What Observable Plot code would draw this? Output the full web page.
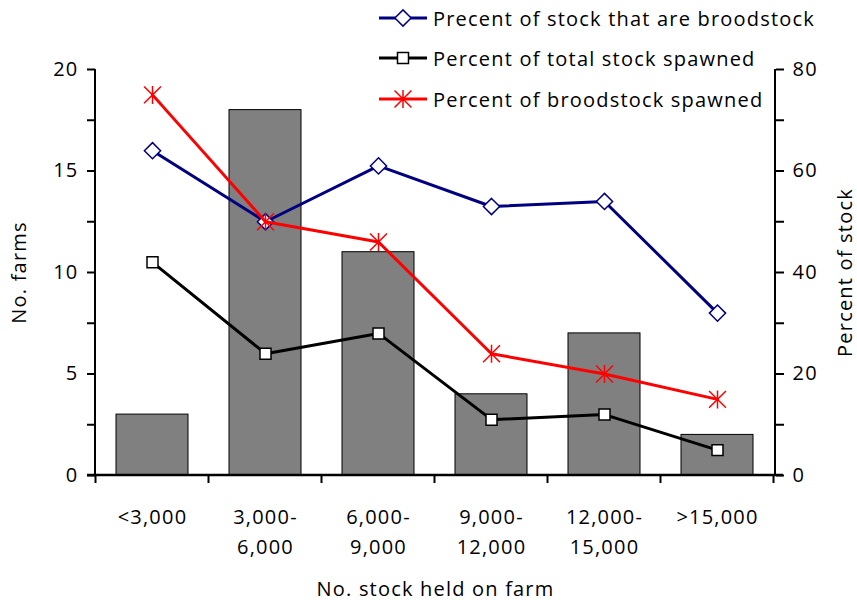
<!DOCTYPE html>
<html><head><meta charset="utf-8">
<script src="https://cdn.jsdelivr.net/npm/d3@7"></script>
<script src="https://cdn.jsdelivr.net/npm/@observablehq/plot@0.6"></script>
<style>
body{margin:0;background:#fff;}
#wrap{position:relative;width:857px;height:600px;font-family:"Open Sans",sans-serif;color:#000;}
.lg{position:absolute;left:378px;height:24px;display:flex;align-items:center;font-size:20px;letter-spacing:1.2px;white-space:nowrap;}
.lg svg{margin-right:5px;}
</style></head><body>
<div id="wrap"><div id="chart"></div><div id="legend"></div></div>
<script>
const categories = ["<3,000","3,000-6,000","6,000-9,000","9,000-12,000","12,000-15,000",">15,000"];
const tickLabels = ["<3,000","3,000-\n6,000","6,000-\n9,000","9,000-\n12,000","12,000-\n15,000",">15,000"];
const farms = [3,18,11,4,7,2];
const pctBroodstock = [64,50,61,53,54,32];
const pctTotalSpawned = [42,24,28,11,12,5];
const pctBroodSpawned = [75,50,46,24,20,15];
const seriesNames = ["Precent of stock that are broodstock","Percent of total stock spawned","Percent of broodstock spawned"];
const seriesColors = ["#000080","#000000","#ff0000"];

const k = 4; // right axis 0-80 mapped onto left axis 0-20
const rows = categories.map((c,i)=>({c, label:tickLabels[i], farms:farms[i], b:pctBroodstock[i], t:pctTotalSpawned[i], s:pctBroodSpawned[i]}));
const FONT = "Open Sans";

// Excel-style star: vertical stroke plus a 45-degree cross
const star = {
  draw(ctx, size) {
    const r = Math.sqrt(size / Math.PI), d = r * 0.94;
    ctx.moveTo(0, -r); ctx.lineTo(0, r);
    ctx.moveTo(-d, -d); ctx.lineTo(d, d);
    ctx.moveTo(-d, d); ctx.lineTo(d, -d);
  }
};

function frameMarks(index, scales, values, dims){
  const x = scales.x, y = scales.y;
  const bw = typeof x.bandwidth === "function" ? x.bandwidth() : scales.scales.x.bandwidth;
  const step = typeof x.step === "function" ? x.step() : scales.scales.x.step;
  const bounds = categories.map(c => x(c) + bw/2 - step/2);
  bounds.push(x(categories[categories.length-1]) + bw/2 + step/2);
  const y0 = y(0), y1 = y(20);
  const xl = dims.marginLeft, xr = dims.width - dims.marginRight;
  const g = d3.create("svg:g").attr("stroke","#000").attr("fill","none");
  g.selectAll("line.t").data(bounds).join("line")
    .attr("x1",d=>d).attr("x2",d=>d).attr("y1",y0).attr("y2",y0+8).attr("stroke-width",2);
  g.append("line").attr("x1",xl).attr("x2",xl).attr("y1",y1).attr("y2",y0).attr("stroke-width",2);
  g.append("line").attr("x1",xr).attr("x2",xr).attr("y1",y1).attr("y2",y0).attr("stroke-width",2);
  g.append("line").attr("x1",xl-8).attr("x2",xr+8).attr("y1",y0).attr("y2",y0).attr("stroke-width",2.5);
  return g.node();
}

const ticks = d3.range(0, 20.01, 2.5);
const chart = Plot.plot({
  width: 857, height: 600,
  marginLeft: 95, marginRight: 82, marginTop: 69, marginBottom: 125,
  style: {fontFamily: FONT, fontSize: "20px", letterSpacing: "1.2px", color: "#000", background: "#fff", overflow: "visible"},
  x: {type: "band", domain: categories, paddingInner: 0.36, paddingOuter: 0.18},
  y: {domain: [0, 20]},
  marks: [
    Plot.barY(rows, {x: "c", y: "farms", fill: "#808080", stroke: "#000", strokeWidth: 1}),
    Plot.axisY({anchor: "left", ticks, tickSize: 8, tickPadding: 9, strokeWidth: 2,
      tickFormat: d => d % 5 === 0 ? String(d) : "", fontSize: 20,
      label: "No. farms", labelAnchor: "center", labelArrow: "none", labelOffset: 84}),
    Plot.axisY({anchor: "right", ticks, tickSize: 8, tickPadding: 9, strokeWidth: 2,
      tickFormat: d => (d*k) % 20 === 0 ? String(d*k) : "", fontSize: 20,
      label: "Percent of stock", labelAnchor: "center", labelArrow: "none", labelOffset: 76}),
    Plot.axisX({tickSize: 0, tickPadding: 27, fontSize: 20, lineHeight: 1.5,
      tickFormat: d => tickLabels[categories.indexOf(d)],
      label: "No. stock held on farm", labelAnchor: "center", labelArrow: "none", labelOffset: 120}),
    frameMarks,
    Plot.line(rows, {x: "c", y: d => d.b / k, stroke: seriesColors[0], strokeWidth: 3}),
    Plot.dot(rows, {x: "c", y: d => d.b / k, symbol: "diamond2", r: 7.3, stroke: seriesColors[0], fill: "#fff", strokeWidth: 1.5}),
    Plot.line(rows, {x: "c", y: d => d.t / k, stroke: seriesColors[1], strokeWidth: 3}),
    Plot.dot(rows, {x: "c", y: d => d.t / k, symbol: "square2", r: 7, stroke: seriesColors[1], fill: "#fff", strokeWidth: 1.5}),
    Plot.line(rows, {x: "c", y: d => d.s / k, stroke: seriesColors[2], strokeWidth: 3}),
    Plot.dot(rows, {x: "c", y: d => d.s / k, symbol: star, r: 9, stroke: seriesColors[2], strokeWidth: 1.5})
  ]
});
document.getElementById("chart").append(chart);

// legend
const symbols = [d3.symbolDiamond2, d3.symbolSquare2, star];
const fills = ["#fff","#fff","none"];
const rs = [7.3,7,9];
const tops = [6, 46, 87];
const lg = document.getElementById("legend");
seriesNames.forEach((name,i)=>{
  const div = document.createElement("div");
  div.className = "lg";
  div.style.top = tops[i] + "px";
  const svg = d3.create("svg").attr("width",50).attr("height",24);
  svg.append("line").attr("x1",1).attr("x2",49).attr("y1",12).attr("y2",12).attr("stroke",seriesColors[i]).attr("stroke-width",3);
  svg.append("path").attr("transform","translate(25,12)")
    .attr("d", d3.symbol(symbols[i], Math.PI*rs[i]*rs[i])())
    .attr("fill",fills[i]).attr("stroke",seriesColors[i]).attr("stroke-width",1.5);
  div.append(svg.node());
  const span = document.createElement("span");
  span.textContent = name;
  div.append(span);
  lg.append(div);
});
</script>
</body></html>
